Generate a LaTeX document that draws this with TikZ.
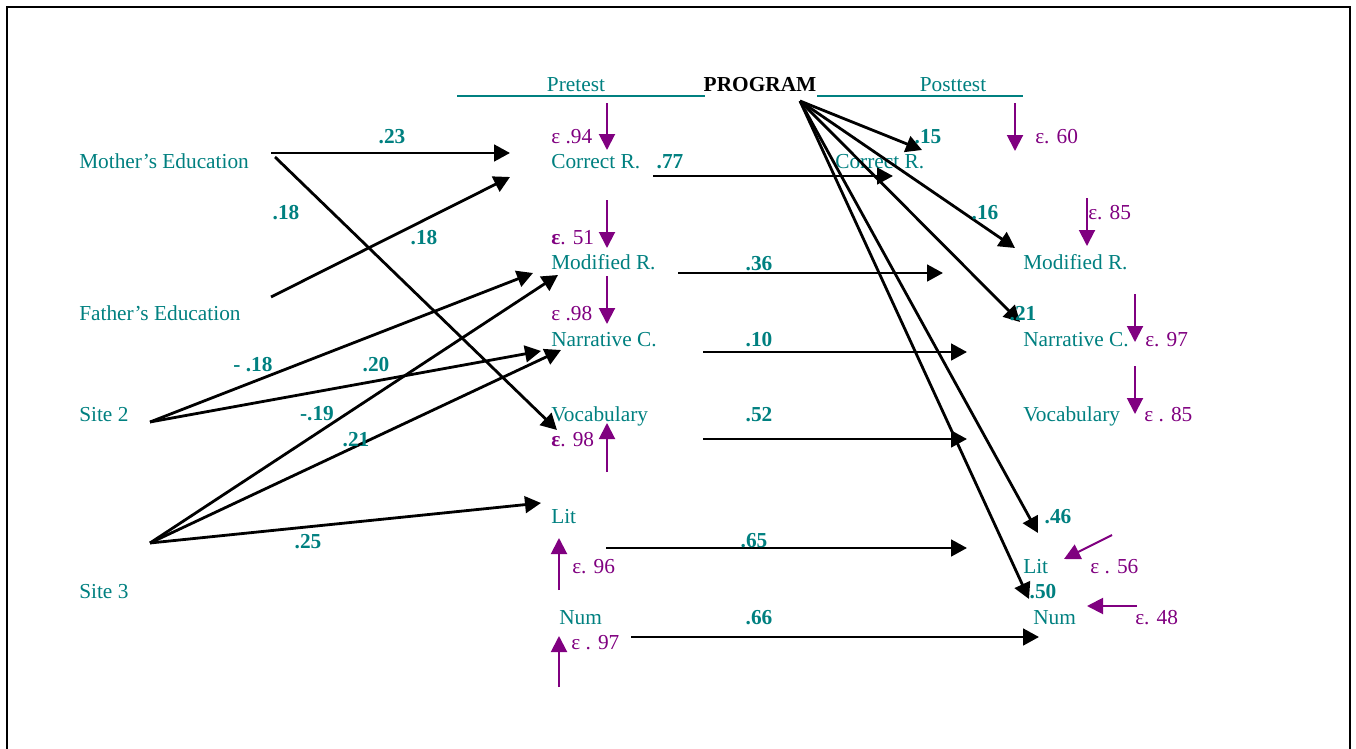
\documentclass[tikz,border=0pt]{standalone}
\usepackage{fontspec}
\setmainfont{Liberation Serif}
\usetikzlibrary{arrows.meta}
\definecolor{tealc}{RGB}{0,128,128}
\definecolor{errc}{RGB}{128,0,128}

\begin{document}
\begin{tikzpicture}[x=0.75pt,y=-0.75pt,
    every node/.style={font=\fontsize{16}{19}\selectfont,inner sep=0pt},
    var/.style={text=tealc,anchor=base west},
    coef/.style={text=tealc,font=\fontsize{16}{19}\selectfont\bfseries,anchor=base},
    err/.style={text=errc,anchor=base west},
    effect/.style={draw,line width=2.1pt,-{Triangle[length=12pt,width=12.5pt]}},
    errarrow/.style={draw=errc,line width=1.5pt,-{Triangle[length=12pt,width=12pt]}}]
    \useasboundingbox (0,0) rectangle (1356,749);
    \draw[line width=2.2pt] (7,749) -- (7,7) -- (1350,7) -- (1350,749);

    % header
    \node[anchor=base,font=\fontsize{16}{19}\selectfont\bfseries] (program) at (760,92) {PROGRAM};
    \node[text=tealc,anchor=base] (pretest) at (576,92) {Pretest};
    \node[text=tealc,anchor=base] (posttest) at (953,92) {Posttest};
    \draw[tealc,line width=0.8pt] (457,96) -- (705,96) (817,96) -- (1023,96);

    % variables
    \foreach \n/\x/\y/\t in {
     mom/79/168/Mother’s Education, dad/79/320/Father’s Education,
     site2/79/421/Site 2, site3/79/598/Site 3,
     preCR/551/168/Correct R., preMR/551/269/Modified R.,
     preNC/551/346/Narrative C., preVO/551/421/Vocabulary,
     preLI/551/523/Lit, preNU/559/624/Num,
     postCR/835/168/Correct R., postMR/1023/269/Modified R.,
     postNC/1023/346/Narrative C., postVO/1023/421/Vocabulary,
     postLI/1023/573/Lit, postNU/1033/624/Num
     } {
      \node[var] (\n) at (\x,\y) {\t};
     }

    % connector ends
    \foreach \n/\x/\y in {
     mom-o/271/153, mom-p/275/157, dad-o/271/297, site2-o/150/422,
     site3-o/150/543, prog-o/800/101,
     a1/510/153, a2/557/430, a3/510/177, a4/533/273, a5/541/351,
     a6/558/275, a7/561/350, a8/541/503,
     CR-o/653/176, CR-i/893/176, MR-o/678/273, MR-i/943/273,
     NC-o/703/352, NC-i/967/352, VO-o/703/439, VO-i/967/439,
     LI-o/606/548, LI-i/967/548, NU-o/631/637, NU-i/1039/637,
     p1/922/150, p2/1015/248, p3/1020/322, p4/1038/533, p5/1029/599
     } {
      \coordinate (\n) at (\x,\y);
     }

    % paths
    \foreach \s/\e in {mom-o/a1, mom-p/a2, dad-o/a3, site2-o/a4, site2-o/a5,
     site3-o/a6, site3-o/a7, site3-o/a8,
     CR-o/CR-i, MR-o/MR-i, NC-o/NC-i, VO-o/VO-i, LI-o/LI-i, NU-o/NU-i,
     prog-o/p1, prog-o/p2, prog-o/p3, prog-o/p4, prog-o/p5} {
      \draw[effect] (\s) -- (\e);
     }

    \foreach \x/\y/\t in {
     392/143/.23, 286/219/.18, 424/244/.18, 253/371/- .18, 376/371/.20,
     317/420/-.19, 356/446/.21, 308/548/.25,
     670/168/.77, 759/270/.36, 759/346/.10, 759/421/.52, 754/547/.65,
     759/624/.66,
     928/143/.15, 985/219/.16, 1023/320/.21, 1058/523/.46, 1043/598/.50
     } {
      \node[coef] at (\x,\y) {\t};
     }

    % residuals
    \foreach \n/\x/\y/\ex/\ey/\tx/\ty/\t in {
     e1/607/103/607/150/551/143/ε .94,
     e2/607/200/607/248/551/244/{\textbf{ε}. 51},
     e3/607/276/607/324/551/320/ε .98,
     e4/607/472/607/423/551/446/{\textbf{ε}. 98},
     e5/559/590/559/538/572/573/ε. 96,
     e6/559/687/559/636/571/649/ε . 97,
     e7/1015/103/1015/151/1035/143/ε. 60,
     e8/1087/198/1087/246/1088/219/ε. 85,
     e9/1135/294/1135/342/1145/346/ε. 97,
     e10/1135/366/1135/414/1144/421/ε . 85,
     e11/1112/535/1064/559/1090/573/ε . 56,
     e12/1137/606/1087/606/1135/624/ε. 48
     } {
      \coordinate (\n-s) at (\x,\y);
      \coordinate (\n-e) at (\ex,\ey);
      \draw[errarrow] (\n-s) -- (\n-e);
      \node[err] (\n) at (\tx,\ty) {\t};
     }
\end{tikzpicture}
\end{document}
